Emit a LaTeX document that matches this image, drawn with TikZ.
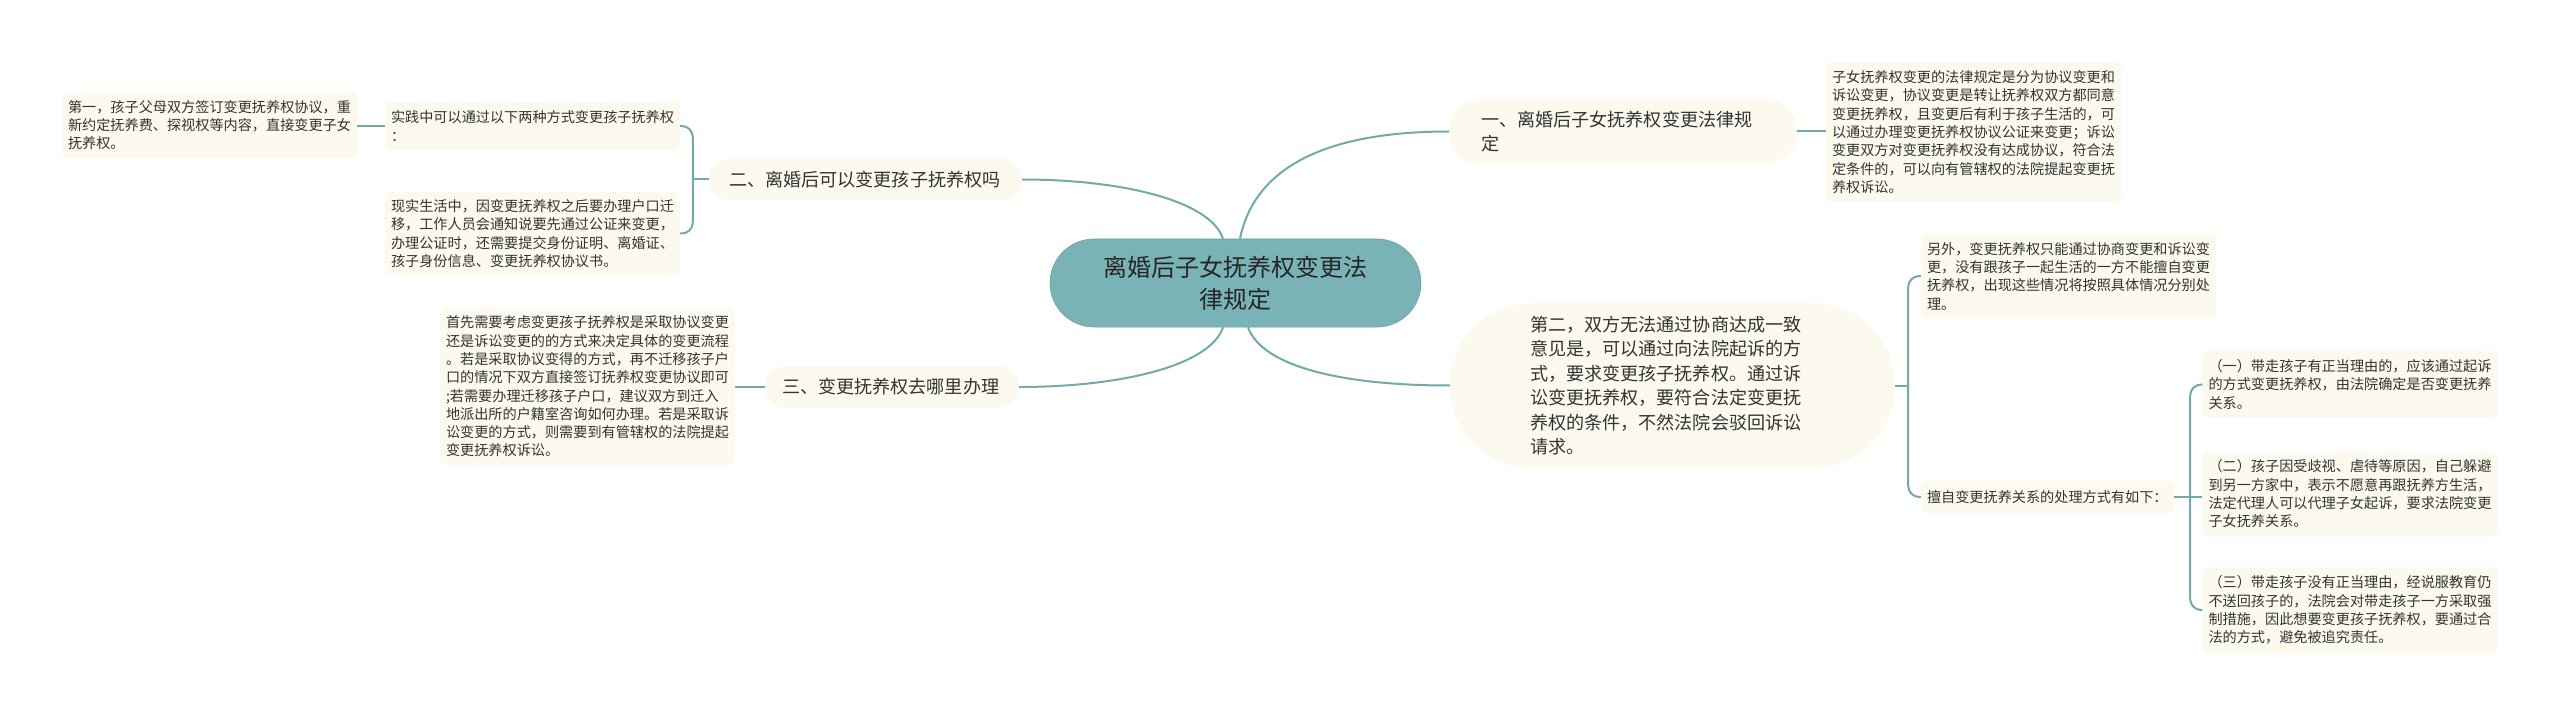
\documentclass[tikz,border=0pt]{standalone}
\usepackage{fontspec}
\setmainfont{Noto Sans CJK SC}
\usetikzlibrary{calc}
\definecolor{rootfill}{HTML}{7AB3B5}
\definecolor{linec}{HTML}{72A9AB}
\definecolor{cream}{HTML}{FCF9EF}
\definecolor{txt}{HTML}{333333}
\begin{document}
\begin{tikzpicture}[x=1pt,y=-1pt,
  small/.style={fill=cream, rounded corners=6, text=txt, align=left, inner xsep=6, inner ysep=0,
    text width=283, font=\fontsize{14.15}{18.3}\selectfont},
  mid/.style={fill=cream, text=txt, align=left, inner ysep=0,
    font=\fontsize{18.1}{24.5}\selectfont},
  rootnode/.style={fill=rootfill, draw=rootfill!90!black, line width=0.6pt, text=black!85, align=center,
    inner xsep=44, inner ysep=0, rounded corners=44, minimum width=371, minimum height=88,
    font=\fontsize{24}{32}\selectfont},
  conn/.style={draw=linec, line width=2pt},
  bracket/.style={draw=linec, line width=2pt, rounded corners=11}
]
\useasboundingbox (0,0) rectangle (2560,714);
\fill[white] (0,0) rectangle (2560,714);

% nodes
\node[rootnode, text width=283] (root) at (1235.5,283) {离婚后子女抚养权变更法\\律规定};

\node[mid, rounded corners=32, inner xsep=32, text width=284, minimum height=65] (yi) at (1623,131.5)
  {一、离婚后子女抚养权变更法律规\\定};
\node[small, minimum height=140] (yitext) at (1973.5,132)
  {子女抚养权变更的法律规定是分为协议变更和\\诉讼变更，协议变更是转让抚养权双方都同意\\变更抚养权，且变更后有利于孩子生活的，可\\以通过办理变更抚养权协议公证来变更；诉讼\\变更双方对变更抚养权没有达成协议，符合法\\定条件的，可以向有管辖权的法院提起变更抚\\养权诉讼。};

\node[mid, rounded corners=20, inner xsep=20, text width=273, minimum height=41] (er) at (865.5,179.5)
  {二、离婚后可以变更孩子抚养权吗};
\node[small, minimum height=48] (shijian) at (532.5,126)
  {实践中可以通过以下两种方式变更孩子抚养权\\：};
\node[small, minimum height=66] (diyi) at (209.5,125)
  {第一，孩子父母双方签订变更抚养权协议，重\\新约定抚养费、探视权等内容，直接变更子女\\抚养权。};
\node[small, minimum height=83] (xianshi) at (532.5,233.5)
  {现实生活中，因变更抚养权之后要办理户口迁\\移，工作人员会通知说要先通过公证来变更，\\办理公证时，还需要提交身份证明、离婚证、\\孩子身份信息、变更抚养权协议书。};

\node[mid, rounded corners=21, inner xsep=17, text width=220, minimum height=42] (san) at (892,387)
  {三、变更抚养权去哪里办理};
\node[small, minimum height=157] (shouxian) at (587.5,386.5)
  {首先需要考虑变更孩子抚养权是采取协议变更\\还是诉讼变更的的方式来决定具体的变更流程\\。若是采取协议变得的方式，再不迁移孩子户\\口的情况下双方直接签订抚养权变更协议即可\\;若需要办理迁移孩子户口，建议双方到迁入\\地派出所的户籍室咨询如何办理。若是采取诉\\讼变更的方式，则需要到有管辖权的法院提起\\变更抚养权诉讼。};

\node[mid, rounded corners=82, inner xsep=80, text width=285, minimum height=165] (dier) at (1672.5,385.5)
  {第二，双方无法通过协商达成一致\\意见是，可以通过向法院起诉的方\\式，要求变更孩子抚养权。通过诉\\讼变更抚养权，要符合法定变更抚\\养权的条件，不然法院会驳回诉讼\\请求。};
\node[small, minimum height=86] (lingwai) at (2068.5,276)
  {另外，变更抚养权只能通过协商变更和诉讼变\\更，没有跟孩子一起生活的一方不能擅自变更\\抚养权，出现这些情况将按照具体情况分别处\\理。};
\node[small, text width=241, minimum height=32] (shanzi) at (2047.5,497)
  {擅自变更抚养关系的处理方式有如下：};
\node[small, minimum height=67] (ya) at (2350,384.5)
  {（一）带走孩子有正当理由的，应该通过起诉\\的方式变更抚养权，由法院确定是否变更抚养\\关系。};
\node[small, minimum height=85] (yb) at (2350,494)
  {（二）孩子因受歧视、虐待等原因，自己躲避\\到另一方家中，表示不愿意再跟抚养方生活，\\法定代理人可以代理子女起诉，要求法院变更\\子女抚养关系。};
\node[small, minimum height=86] (yc) at (2350,610)
  {（三）带走孩子没有正当理由，经说服教育仍\\不送回孩子的，法院会对带走孩子一方采取强\\制措施，因此想要变更孩子抚养权，要通过合\\法的方式，避免被追究责任。};

% connectors from root
\draw[conn] ($(root.north)+(-12.5,0)$) .. controls (1210,200) and (1120,179.5) .. (er.east);
\draw[conn] ($(root.north)+(4.5,0)$) .. controls (1255,165) and (1330,131.5) .. (yi.west);
\draw[conn] ($(root.south)+(-12.5,0)$) .. controls (1210,366) and (1120,387) .. (san.east);
\draw[conn] ($(root.south)+(12.5,0)$) .. controls (1262,366) and (1340,385.5) .. (dier.west);

% first-level to second-level
\draw[conn] (yi.east) -- (yi.east -| yitext.west);
\draw[conn] (san.west) -- (san.west -| shouxian.east);
\draw[conn] (shijian.west) -- (shijian.west -| diyi.east);

% bracket for er
\coordinate (erj) at ($(er.west)+(-16,0)$);
\draw[conn] (er.west) -- (erj);
\draw[bracket] (shijian.east) -| (erj) |- (xianshi.east);

% bracket for dier
\coordinate (dj) at ($(dier.east)+(13,0)$);
\draw[conn] (dier.east) -- (dj);
\draw[bracket] (lingwai.west) -| (dj) |- (shanzi.west);

% bracket for shanzi
\coordinate (sj) at ($(shanzi.east)+(16,0)$);
\draw[conn] (shanzi.east) -- (shanzi.east -| yb.west);
\draw[bracket] (ya.west) -| (sj) |- (yc.west);
\end{tikzpicture}
\end{document}
